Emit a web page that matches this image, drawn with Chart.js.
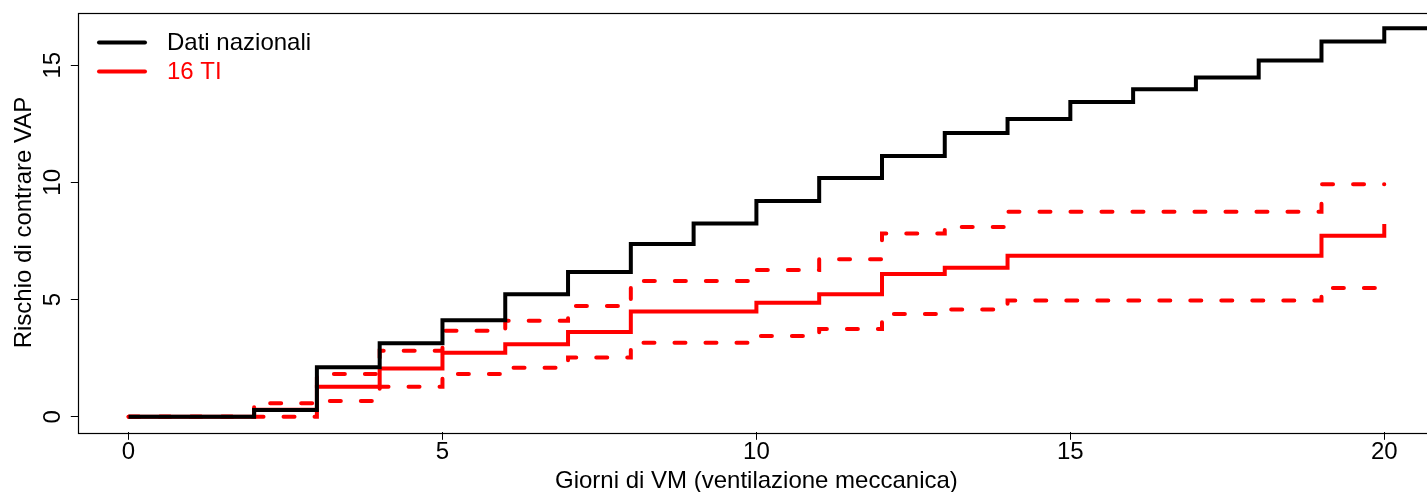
<!DOCTYPE html>
<html>
<head>
<meta charset="utf-8">
<script src="https://cdn.jsdelivr.net/npm/chart.js@4.4.1/dist/chart.umd.min.js"></script>
<style>
  html, body { margin: 0; padding: 0; background: #fff; overflow: hidden; }
  #wrap { width: 1440px; height: 492px; }
</style>
</head>
<body>
<div id="wrap"><canvas id="c" width="1440" height="492" style="width:1440px;height:492px"></canvas></div>
<script>
// ---- data ----
const days = [0,1,2,3,4,5,6,7,8,9,10,11,12,13,14,15,16,17,18,19,20];
const datiNazionali = [0,0,0.29,2.11,3.13,4.12,5.23,6.18,7.37,8.25,9.2,10.19,11.13,12.11,12.70,13.43,13.97,14.47,15.20,16.01,16.58];
const datiNazionaliTail = [21, 16.58]; // last level continues past day 20
const ti16 = [0,0,0.3,1.28,2.06,2.73,3.09,3.62,4.49,4.49,4.86,5.23,6.09,6.36,6.87,6.87,6.87,6.87,6.87,7.72,8.22];
const ti16Upper = [0,0,0.57,1.82,2.81,3.67,4.09,4.72,5.79,5.79,6.26,6.72,7.82,8.10,8.75,8.75,8.75,8.75,8.75,9.92,9.92];
const ti16Lower = [0,0,0,0.67,1.28,1.82,2.09,2.53,3.16,3.16,3.44,3.74,4.38,4.58,4.96,4.96,4.96,4.96,4.96,5.49,5.80];
const xTicks = [0,5,10,15,20];
const yTicks = [0,5,10,15];
const labels = { series: ['Dati nazionali', '16 TI'], x: 'Giorni di VM (ventilazione meccanica)', y: 'Rischio di contrare VAP' };

const FONT = "'Liberation Sans', Arial, Helvetica, sans-serif";
const FS = 24;

function pts(xs, ys) { return xs.map((x, i) => ({ x: x, y: ys[i] })); }

const natPts = pts(days, datiNazionali).concat([{ x: datiNazionaliTail[0], y: datiNazionaliTail[1] }]);

const boxPlugin = {
  id: 'rbox',
  beforeDatasetsDraw(chart) {
    const { ctx, chartArea: a } = chart;
    ctx.save();
    ctx.strokeStyle = '#000';
    ctx.lineWidth = 1.2;
    ctx.strokeRect(Math.round(a.left) + 0.5, Math.round(a.top) + 0.5, Math.round(a.right - a.left), Math.round(a.bottom - a.top));
    ctx.restore();
  },
  afterDatasetsDraw(chart) {
    const { ctx } = chart;
    ctx.save();
    ctx.font = FS + 'px ' + FONT;
    ctx.textBaseline = 'middle';
    ctx.textAlign = 'left';
    labels.series.forEach((name, i) => {
      const d = chart.data.datasets.find(ds => ds.label === name);
      const y = 42.5 + i * 29;
      ctx.strokeStyle = d.borderColor;
      ctx.lineWidth = 4;
      ctx.lineCap = 'round';
      ctx.beginPath();
      ctx.moveTo(99, y);
      ctx.lineTo(145, y);
      ctx.stroke();
      ctx.fillStyle = d.borderColor;
      ctx.fillText(d.label, 167, y + 1);
    });
    ctx.restore();
  }
};

new Chart(document.getElementById('c'), {
  type: 'line',
  data: {
    datasets: [
      { label: labels.series[0], order: 1, data: natPts, borderColor: '#000000', borderWidth: 4, stepped: 'before', pointRadius: 0, fill: false },
      { label: labels.series[1], order: 2, data: pts(days, ti16), borderColor: '#ff0000', borderWidth: 4, stepped: 'before', pointRadius: 0, fill: false },
      { label: labels.series[1] + ' sup', order: 3, data: pts(days, ti16Upper), borderColor: '#ff0000', borderWidth: 4, borderDash: [11, 20], borderCapStyle: 'round', stepped: 'before', pointRadius: 0, fill: false },
      { label: labels.series[1] + ' inf', order: 4, data: pts(days, ti16Lower), borderColor: '#ff0000', borderWidth: 4, borderDash: [11, 20], borderCapStyle: 'round', stepped: 'before', pointRadius: 0, fill: false }
    ]
  },
  options: {
    responsive: false,
    animation: false,
    devicePixelRatio: 1,
    layout: { padding: { top: 12.7, right: 5.5, left: 0, bottom: 0 } },
    plugins: { legend: { display: false }, tooltip: { enabled: false } },
    scales: {
      x: {
        type: 'linear', position: 'bottom', min: -0.8, max: 20.8,
        afterBuildTicks: s => { s.ticks = xTicks.map(v => ({ value: v })); },
        afterFit: s => { s.height = 59.7; s.paddingLeft = 0; s.paddingRight = 0; },
        grid: { drawOnChartArea: false, drawTicks: true, tickLength: 7.5, color: '#000', lineWidth: 1 },
        border: { display: false },
        ticks: { color: '#000', font: { family: FONT, size: FS }, padding: -2, maxRotation: 0, autoSkip: false },
        title: { display: true, text: labels.x, color: '#000', font: { family: FONT, size: FS }, padding: { top: 0, bottom: -4 } }
      },
      y: {
        type: 'linear', position: 'left', min: -0.665, max: 17.24,
        afterBuildTicks: s => { s.ticks = yTicks.map(v => ({ value: v })); },
        afterFit: s => { s.width = 78.3; s.paddingTop = 0; s.paddingBottom = 0; },
        grid: { drawOnChartArea: false, drawTicks: true, tickLength: 7.5, color: '#000', lineWidth: 1 },
        border: { display: false },
        ticks: { color: '#000', font: { family: FONT, size: FS }, padding: 4, minRotation: 90, maxRotation: 90, crossAlign: 'center', autoSkip: false },
        title: { display: true, text: labels.y, color: '#000', font: { family: FONT, size: FS }, padding: { top: 10, bottom: 0 } }
      }
    }
  },
  plugins: [boxPlugin]
});
</script>
</body>
</html>
